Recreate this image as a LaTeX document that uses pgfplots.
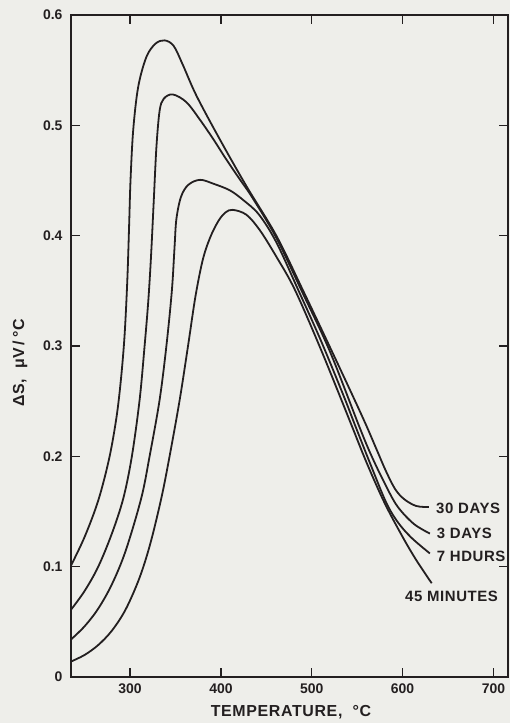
\documentclass[border=0pt]{standalone}
\usepackage{fontspec}
\setmainfont{Liberation Sans}
\newfontfamily\spaced[LetterSpace=4]{Liberation Sans}
\usepackage{pgfplots}
\pgfplotsset{compat=1.18}
\definecolor{ink}{HTML}{231F20}
\definecolor{paper}{HTML}{EEEEEA}

% Thermopower change Delta S versus temperature for four ageing times
\pgfplotstableread{
T dS
235 0.101
250 0.127
265 0.160
277 0.198
285 0.235
290 0.270
294 0.310
297 0.360
299 0.410
300.5 0.450
303.5 0.496
309 0.535
318 0.562
328 0.574
338 0.577
348 0.572
358 0.555
373 0.527
399 0.487
428 0.445
461 0.400
490 0.351
520 0.299
545 0.255
560 0.228
572 0.205
582 0.186
592 0.170
602 0.161
615 0.155
629 0.154
}\thirtydays

\pgfplotstableread{
T dS
235 0.061
250 0.078
265 0.100
280 0.130
292.6 0.162
302 0.200
310.5 0.251
316 0.300
320 0.340
323 0.380
326 0.430
329 0.480
332.5 0.513
337 0.524
347 0.528
362 0.521
377 0.505
392 0.487
406 0.469
420 0.452
435 0.434
461 0.398
490 0.348
520 0.295
553 0.2255
566 0.200
580 0.176
594 0.155
612 0.139
630 0.130
}\threedays

\pgfplotstableread{
T dS
235 0.034
250 0.046
265 0.062
280 0.084
295 0.114
312.3 0.162
321.5 0.200
332.5 0.251
340 0.300
346 0.350
349 0.390
351 0.415
356 0.435
364 0.446
377 0.4506
392 0.447
410 0.441
425 0.432
442 0.419
461 0.394
485 0.351
510 0.305
535 0.255
547.5 0.2285
565 0.192
582 0.158
595 0.140
610 0.126
630 0.112
}\sevenhours

\pgfplotstableread{
T dS
235 0.014
250 0.020
265 0.029
280 0.042
295 0.061
310 0.089
322 0.120
334.4 0.162
343.5 0.200
354.6 0.251
363.8 0.300
372 0.345
380 0.378
388 0.398
397 0.413
405 0.421
413 0.4234
428 0.419
442.8 0.405
461 0.381
481.4 0.351
510 0.297
540 0.236
560 0.195
580 0.158
600 0.127
615 0.106
632 0.085
}\fortyfivemin

\pgfplotsset{
  every tick/.style={draw=ink, line width=1.3bp},
  every major tick/.style={draw=ink, line width=1.3bp},
  major tick length=9bp,
}

\begin{document}
\begin{tikzpicture}
\fill[paper] (-71bp,-46bp) rectangle (439bp,677bp);
\begin{axis}[
  at={(0,0)}, anchor=south west,
  width=437bp, height=662bp, scale only axis,
  xmin=235, xmax=716, ymin=0, ymax=0.6,
  xtick={300,400,500,600,700},
  xticklabels={300,400,500,600,700},
  ytick={0,0.1,0.2,0.3,0.4,0.5,0.6},
  yticklabels={0,0.1,0.2,0.3,0.4,0.5,0.6},
  tick align=inside,
  tick pos=both,
  axis line style={draw=ink, line width=1.4bp},
  tick label style={font=\fontsize{14}{14}\selectfont\bfseries, text=ink},
  xticklabel style={yshift=-3bp},
  yticklabel style={xshift=-5bp},
  xlabel={\spaced\bfseries TEMPERATURE,\ \ °C},
  ylabel={\spaced\bfseries ΔS,\ \ μV\,/\,°C},
  label style={font=\fontsize{16}{16}\selectfont, text=ink},
  xlabel style={at={(axis description cs:0.5034,-0.0529)}, anchor=center},
  ylabel style={at={(axis description cs:-0.1167,0.4743)}, anchor=center, rotate=0},
  clip=false,
  curve/.style={ink, line width=1.8bp, smooth, tension=0.55, mark=none},
]
\addplot[curve] table[x=T, y=dS] {\thirtydays};
\addplot[curve] table[x=T, y=dS] {\threedays};
\addplot[curve] table[x=T, y=dS] {\sevenhours};
\addplot[curve] table[x=T, y=dS] {\fortyfivemin};

\begin{scope}[every node/.style={anchor=west, inner sep=0pt, text=ink,
    font=\fontsize{15}{15}\selectfont\spaced\bfseries}]
\node at (axis cs:636.8,0.153) {30 DAYS};
\node at (axis cs:637.5,0.1306) {3 DAYS};
\node at (axis cs:637.5,0.1094) {7 HDURS};
\node at (axis cs:602.6,0.0728) {45 MINUTES};
\end{scope}
\end{axis}
\end{tikzpicture}
\end{document}
